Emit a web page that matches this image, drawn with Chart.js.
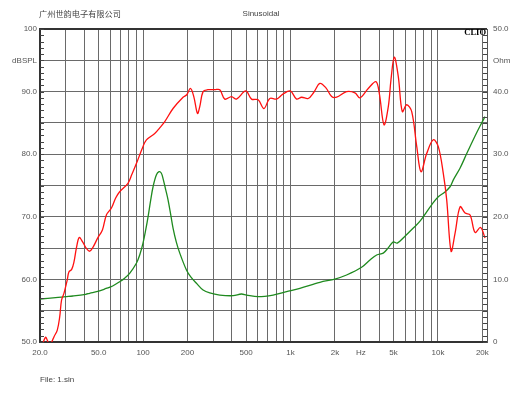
<!DOCTYPE html>
<html>
<head>
<meta charset="utf-8">
<script src="https://cdn.jsdelivr.net/npm/chart.js@4/dist/chart.umd.min.js"></script>
<style>
  html, body { margin: 0; padding: 0; background: #fff; }
  #wrap { position: relative; width: 530px; height: 398px; }
</style>
</head>
<body>
<div id="wrap"><canvas id="myChart" width="530" height="398"></canvas></div>
<script>
// SPL curve (red), Hz / dBSPL
var splFreq = [20.5, 21.8, 22.5, 23.2, 24.0, 24.9, 26.2, 27.2, 28.0, 29.1, 30.6, 31.4, 32.8, 34.0, 35.3, 36.9,
  38.9, 41.4, 43.4, 45.9, 49.2, 53.0, 56.4, 61.0, 65.2, 69.4, 79.0, 83.7, 90.1, 99.0, 105.4, 120, 129.7, 140.3,
  159.7, 186.7, 197.8, 209.5, 220.8, 233.9, 242.4, 255.3, 274.7, 306.4, 331.3, 358.3, 398, 430, 497, 544, 603,
  660, 724, 804, 888, 998, 1099, 1189, 1318, 1440, 1582, 1738, 1901, 2055, 2400, 2735, 2957, 3365, 3796, 4000,
  4305, 4604, 4800, 5055, 5382, 5728, 6136, 6636, 7179, 7674, 8381, 9294, 10050, 10870, 11460, 12270, 13060,
  14130, 15270, 16510, 17840, 19450, 20850];
var splDb = [49.2, 50.75, 50.2, 49.6, 50.0, 50.85, 51.9, 54.0, 56.7, 57.8, 59.9, 61.2, 61.6, 62.8, 65.0, 66.7,
  66.0, 64.9, 64.5, 65.2, 66.6, 67.9, 70.3, 71.4, 73.0, 74.0, 75.35, 76.7, 78.5, 81.0, 82.3, 83.3, 84.2, 85.2,
  87.3, 89.1, 89.5, 90.5, 89.2, 86.5, 87.6, 90.0, 90.3, 90.3, 90.3, 88.8, 89.2, 88.8, 90.1, 88.8, 88.7,
  87.3, 88.9, 88.8, 89.6, 90.1, 88.8, 89.1, 88.9, 89.9, 91.3, 90.6, 89.2, 89.1, 90.0, 89.8, 89.0, 90.5, 91.6, 89.7,
  84.7, 87.6, 91.9, 95.5, 92.4, 86.8, 87.9, 86.8, 81.2, 77.2, 80.1, 82.3, 81.2, 76.9, 72.7, 64.5, 67.4,
  71.6, 70.6, 70.3, 67.5, 68.3, 66.6];

// impedance curve (green), Hz / Ohm
var impFreq = [20, 25.5, 29.8, 33.4, 40.8, 43.4, 49.2, 56.2, 62.2, 69.4, 75.0, 81.1, 90.1, 94.9, 99.9, 104.2,
  108.1, 112.7, 116.9, 123.2, 128.3, 132.8, 136.5, 142.5, 147.7, 154.1, 159.7, 167.9, 177.4, 196.9, 210.6,
  230.2, 255.3, 283.4, 331.3, 408, 465, 503, 603, 762, 940, 1157, 1582, 2000, 2400, 3035, 3457, 3839, 4256,
  4580, 4976, 5296, 5973, 6803, 7554, 8381, 9112, 10050, 10990, 12080, 12710, 14130, 15670, 17840, 19290, 20850];
var impOhm = [6.87, 7.08, 7.24, 7.35, 7.62, 7.78, 8.07, 8.55, 8.95, 9.63, 10.2, 10.97, 12.57, 13.9, 15.8, 17.9,
  20.0, 22.7, 24.8, 26.7, 27.2, 27.0, 26.15, 24.3, 22.7, 20.3, 18.2, 16.0, 14.2, 11.5, 10.4,
  9.38, 8.3, 7.83, 7.5, 7.4, 7.67, 7.5, 7.24, 7.5, 8.04, 8.58, 9.54, 10.06, 10.7, 11.93, 13.1, 13.9, 14.2,
  15.0, 16.0, 15.8, 16.9, 18.2, 19.3, 20.8, 22.0, 23.2, 23.85, 24.8, 25.9, 27.8, 30.1, 32.9, 34.5, 36.0];

// axis ticks
var xTickValues = [20, 30, 40, 50, 60, 70, 80, 90, 100, 200, 300, 400, 500, 600, 700, 800, 900,
  1000, 2000, 3000, 4000, 5000, 6000, 7000, 8000, 9000, 10000, 20000];
var xTickLabels = {20: '20.0', 50: '50.0', 100: '100', 200: '200', 500: '500', 1000: '1k',
  2000: '2k', 3000: 'Hz', 5000: '5k', 10000: '10k', 20000: '20k'};
var yLeftLabels = {100: '100', 95: 'dBSPL', 90: '90.0', 80: '80.0', 70: '70.0', 60: '60.0', 50: '50.0'};
var yRightLabels = {50: '50.0', 45: 'Ohm', 40: '40.0', 30: '30.0', 20: '20.0', 10: '10.0', 0: '0'};

var FONT = "'Liberation Sans', Arial, sans-serif";

function toPoints(xs, ys){
  return xs.map(function(x, i){ return {x: x, y: ys[i]}; });
}

// textos y marcas menores
var extras = {
  id: 'extras',
  afterDraw: function(chart){
    var ctx = chart.ctx;
    var a = chart.chartArea;
    var yl = chart.scales.y;
    var yr = chart.scales.y1;
    ctx.save();
    ctx.strokeStyle = '#444';
    ctx.lineWidth = 1;
    ctx.beginPath();
    for (var v = 50; v <= 100; v++) {
      var p = Math.round(yl.getPixelForValue(v)) + 0.5;
      ctx.moveTo(a.left, p); ctx.lineTo(a.left + 4, p);
    }
    for (var w = 0; w <= 50; w++) {
      var q = Math.round(yr.getPixelForValue(w)) + 0.5;
      ctx.moveTo(a.right, q); ctx.lineTo(a.right - 4, q);
    }
    ctx.stroke();

    ctx.fillStyle = '#444';
    ctx.textBaseline = 'middle';
    ctx.font = "8.2px 'Noto Sans CJK SC', sans-serif";
    ctx.textAlign = 'left';
    ctx.fillText('广州世韵电子有限公司', 39, 14);
    ctx.font = '8px ' + FONT;
    ctx.textAlign = 'center';
    ctx.fillText('Sinusoidal', 261, 14);
    ctx.textAlign = 'left';
    ctx.fillText('File: 1.sin', 40, 380);
    ctx.fillStyle = '#000';
    ctx.font = "bold 8.5px 'Liberation Serif', serif";
    ctx.textAlign = 'right';
    ctx.fillText('CLIO', a.right - 1, 33);
    ctx.restore();
  }
};

let myChart = document.getElementById('myChart').getContext('2d');
let lineChart = new Chart(myChart, {
  type: 'line',
  data: {
    datasets: [{
      label: 'SPL',
      data: toPoints(splFreq, splDb),
      yAxisID: 'y',
      borderColor: '#ff1010',
      borderWidth: 1.3,
      pointRadius: 0,
      tension: 0.35,
      fill: false
    }, {
      label: 'Impedance',
      data: toPoints(impFreq, impOhm),
      yAxisID: 'y1',
      borderColor: '#1f8a1f',
      borderWidth: 1.3,
      pointRadius: 0,
      tension: 0.35,
      fill: false
    }]
  },
  options: {
    responsive: false,
    animation: false,
    events: [],
    layout: { padding: { top: 29, left: 0, right: 0, bottom: 0 } },
    plugins: { legend: { display: false }, tooltip: { enabled: false } },
    scales: {
      x: {
        type: 'logarithmic',
        min: 20,
        max: 21500,
        afterBuildTicks: function(scale){
          scale.ticks = xTickValues.map(function(v){ return {value: v}; });
        },
        afterFit: function(scale){ scale.height = 56; },
        grid: { color: '#6a6a6a', lineWidth: 1, drawTicks: false },
        border: { color: '#333', width: 2 },
        ticks: {
          autoSkip: false, maxRotation: 0, minRotation: 0, padding: 6,
          color: '#555', font: { family: FONT, size: 8 },
          callback: function(value){ return xTickLabels[value] || ''; }
        }
      },
      y: {
        position: 'left',
        min: 50,
        max: 100,
        afterFit: function(scale){ scale.width = 40; },
        grid: {
          drawTicks: false,
          color: function(c){ return c.tick && c.tick.value === 100 ? '#333' : '#6a6a6a'; },
          lineWidth: function(c){ return c.tick && c.tick.value === 100 ? 2 : 1; }
        },
        border: { color: '#333', width: 2 },
        ticks: {
          stepSize: 5, padding: 3,
          color: '#555', font: { family: FONT, size: 8 },
          callback: function(value){ return yLeftLabels[value] || ''; }
        }
      },
      y1: {
        position: 'right',
        min: 0,
        max: 50,
        afterFit: function(scale){ scale.width = 43; },
        grid: { display: false, drawTicks: false },
        border: { color: '#555', width: 1 },
        ticks: {
          stepSize: 5, padding: 6,
          color: '#555', font: { family: FONT, size: 8 },
          callback: function(value){ return yRightLabels[value] || ''; }
        }
      }
    }
  },
  plugins: [extras]
});
</script>
</body>
</html>
